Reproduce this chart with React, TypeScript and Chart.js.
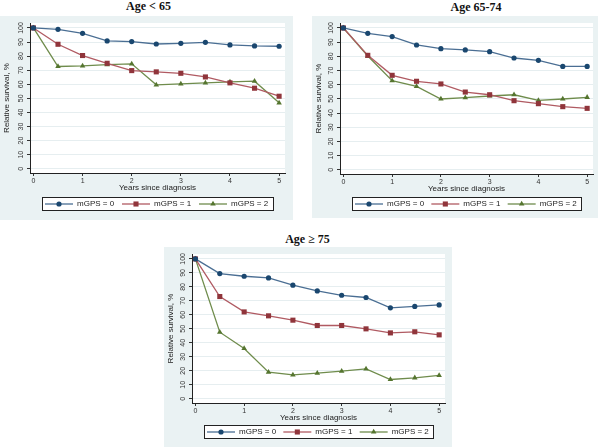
import React, { useEffect, useRef } from "react";
import { Chart, registerables } from "chart.js";

Chart.register(...registerables);

// ---- data ----
const years = [0, 0.5, 1, 1.5, 2, 2.5, 3, 3.5, 4, 4.5, 5];
const xTickValues = [0, 1, 2, 3, 4, 5];
const yTickValues = [0, 10, 20, 30, 40, 50, 60, 70, 80, 90, 100];
const seriesLabels = ["mGPS = 0", "mGPS = 1", "mGPS = 2"];
const panelTitles = ["Age < 65", "Age 65-74", "Age \u2265 75"];
const xAxisTitle = "Years since diagnosis";
const yAxisTitle = "Relative survival, %";

const under65Mgps0 = [100, 99, 96.2, 90.8, 90.3, 88.6, 89.1, 89.8, 87.9, 87.2, 87];
const under65Mgps1 = [100, 88.4, 80.4, 74.9, 69.7, 68.8, 67.8, 65.2, 61, 57.2, 51.5];
const under65Mgps2 = [100, 72.6, 73, 74, 74.5, 59.6, 60.3, 61, 61.7, 62.2, 46.8];

const age6574Mgps0 = [100, 96.2, 93.9, 88, 85.4, 84.5, 83.3, 78.8, 77.2, 72.9, 72.9];
const age6574Mgps1 = [100, 80.7, 66.6, 62.4, 60.5, 54.8, 52.9, 48.7, 46.6, 44.5, 43.3];
const age6574Mgps2 = [100, 80.2, 62.8, 58.8, 49.9, 50.8, 52, 52.9, 48.9, 49.9, 51.1];

const over75Mgps0 = [100, 89.5, 87.6, 86.4, 81.2, 77.1, 74, 72.4, 65, 66, 67.1];
const over75Mgps1 = [100, 73.1, 62.1, 59.3, 56.2, 52.4, 52.4, 50, 47.1, 47.9, 45.7];
const over75Mgps2 = [100, 47.6, 36, 19, 17.1, 18.3, 19.8, 21.4, 13.8, 15, 16.7];

// ---- styles ----
const markerColors = ["#1a476f", "#90353b", "#55752f"];
const lineColors = ["#4a6e93", "#b05a62", "#6f8c4c"];
const pointStyles = ["circle", "rect", "triangle"];
const pointRadii = [2.6, 3.6, 3.2];
const SANS = "'Liberation Sans', Arial, sans-serif";
const SERIF = "'Liberation Serif', 'Times New Roman', serif";
const BG = "#eaf2f3";

type Box = { x: number; y: number; w: number; h: number };
type Area = { left: number; top: number; right: number; bottom: number };

function drawMarker(ctx: CanvasRenderingContext2D, style: string, x: number, y: number, r: number, color: string) {
  ctx.fillStyle = color;
  ctx.beginPath();
  if (style === "circle") {
    ctx.arc(x, y, r, 0, Math.PI * 2);
  } else if (style === "rect") {
    const s = Math.SQRT1_2 * r;
    ctx.rect(x - s, y - s, 2 * s, 2 * s);
  } else {
    const a = (Math.PI * 2) / 3;
    for (let k = 0; k < 3; k++) {
      const ang = -Math.PI / 2 + k * a;
      const px = x + Math.cos(ang) * r;
      const py = y + Math.sin(ang) * r;
      if (k === 0) ctx.moveTo(px, py);
      else ctx.lineTo(px, py);
    }
    ctx.closePath();
  }
  ctx.fill();
}

function Panel(props: {
  title: string;
  titleX: number;
  titleY: number;
  box: Box;
  area: Area;
  legendOffset: number;
  series: number[][];
}) {
  const ref = useRef<HTMLCanvasElement>(null);
  const { box, area, legendOffset, series } = props;

  useEffect(() => {
    const xAxisH = 20;
    const bgPlugin = {
      id: "bgPlugin",
      beforeDraw(chart: any) {
        const { ctx, chartArea } = chart;
        ctx.save();
        ctx.fillStyle = BG;
        ctx.fillRect(0, 0, chart.width, chart.height);
        ctx.fillStyle = "#ffffff";
        ctx.fillRect(
          chartArea.left,
          chartArea.top,
          chartArea.right - chartArea.left,
          chartArea.bottom - chartArea.top
        );
        ctx.restore();
      },
    };
    const legendPlugin = {
      id: "stataLegend",
      afterDraw(chart: any) {
        const { ctx, chartArea } = chart;
        const left = chartArea.left + 12;
        const right = chartArea.right - 12;
        const top = chartArea.bottom + legendOffset;
        const h = 13;
        ctx.save();
        ctx.fillStyle = "#ffffff";
        ctx.fillRect(left, top, right - left, h);
        ctx.strokeStyle = "#222";
        ctx.lineWidth = 1;
        ctx.strokeRect(Math.round(left) + 0.5, Math.round(top) + 0.5, Math.round(right - left), h);
        const slot = (right - left) / chart.data.datasets.length;
        const cy = top + h / 2 + 0.5;
        chart.data.datasets.forEach((ds: any, i: number) => {
          const sx = left + slot * i + 3;
          const lineLen = 28;
          ctx.strokeStyle = ds.borderColor;
          ctx.lineWidth = 1.3;
          ctx.beginPath();
          ctx.moveTo(sx, cy);
          ctx.lineTo(sx + lineLen, cy);
          ctx.stroke();
          drawMarker(ctx, ds.pointStyle, sx + lineLen / 2, cy, ds.pointRadius, ds.backgroundColor);
          ctx.fillStyle = "#222";
          ctx.font = `8px ${SANS}`;
          ctx.textBaseline = "middle";
          ctx.textAlign = "left";
          ctx.fillText(ds.label, sx + lineLen + 4, cy);
        });
        ctx.restore();
      },
    };

    const chart = new Chart(ref.current as HTMLCanvasElement, {
      type: "line",
      data: {
        datasets: series.map((s, i) => ({
          label: seriesLabels[i],
          data: years.map((x, j) => ({ x, y: s[j] })),
          borderColor: lineColors[i],
          backgroundColor: markerColors[i],
          pointStyle: pointStyles[i] as any,
          pointRadius: pointRadii[i],
          pointBorderWidth: 0,
          borderWidth: 1.3,
          tension: 0,
        })),
      },
      options: {
        animation: false,
        responsive: false,
        maintainAspectRatio: false,
        layout: {
          padding: {
            left: 0,
            top: area.top,
            right: box.w - area.right,
            bottom: box.h - area.bottom - xAxisH,
          },
        },
        plugins: {
          legend: { display: false },
          tooltip: { enabled: false },
          title: { display: false },
        },
        scales: {
          x: {
            type: "linear",
            min: -0.07,
            max: 5.12,
            afterBuildTicks: (s: any) => {
              s.ticks = xTickValues.map((v) => ({ value: v }));
            },
            afterFit: (s: any) => {
              s.height = xAxisH;
            },
            grid: { drawOnChartArea: false, tickLength: 3, tickColor: "#333" },
            border: { color: "#222", width: 1 },
            ticks: {
              font: { family: SANS, size: 7 },
              color: "#333",
              padding: 1,
              maxRotation: 0,
              autoSkip: false,
            },
            title: {
              display: true,
              text: xAxisTitle,
              font: { family: SANS, size: 8 },
              color: "#222",
              padding: 0,
            },
          },
          y: {
            type: "linear",
            min: -3,
            max: 103.5,
            afterBuildTicks: (s: any) => {
              s.ticks = yTickValues.map((v) => ({ value: v }));
            },
            afterFit: (s: any) => {
              s.width = area.left;
            },
            grid: { color: "#e6eef0", tickLength: 3, tickColor: "#333" },
            border: { color: "#222", width: 1 },
            ticks: {
              font: { family: SANS, size: 7 },
              color: "#333",
              padding: 0,
              minRotation: 90,
              maxRotation: 90,
              crossAlign: "center",
              autoSkip: false,
            },
            title: {
              display: true,
              text: yAxisTitle,
              font: { family: SANS, size: 8 },
              color: "#222",
              padding: { top: 2, bottom: 0 },
            },
          },
        },
      } as any,
      plugins: [bgPlugin, legendPlugin],
    });
    return () => chart.destroy();
  }, []);

  return (
    <>
      <div
        style={{
          position: "absolute",
          left: props.titleX - 100,
          top: props.titleY - 7,
          width: 200,
          height: 14,
          lineHeight: "14px",
          textAlign: "center",
          fontFamily: SERIF,
          fontWeight: "bold",
          fontSize: 12,
          color: "#111",
          whiteSpace: "nowrap",
        }}
      >
        {props.title}
      </div>
      <canvas
        ref={ref}
        width={box.w}
        height={box.h}
        style={{
          position: "absolute",
          left: box.x,
          top: box.y,
          width: box.w,
          height: box.h,
        }}
      />
    </>
  );
}

export default function App() {
  return (
    <div
      style={{
        position: "absolute",
        left: 0,
        top: 0,
        width: 600,
        height: 448,
        background: "#ffffff",
        overflow: "hidden",
      }}
    >
      <Panel
        title={panelTitles[0]}
        titleX={148.5}
        titleY={5.5}
        box={{ x: 0, y: 16, w: 293, h: 204 }}
        area={{ left: 30, top: 7, right: 285, bottom: 157 }}
        legendOffset={24}
        series={[under65Mgps0, under65Mgps1, under65Mgps2]}
      />
      <Panel
        title={panelTitles[1]}
        titleX={476}
        titleY={6.5}
        box={{ x: 312, y: 16, w: 286, h: 202 }}
        area={{ left: 28, top: 7, right: 281, bottom: 158 }}
        legendOffset={23}
        series={[age6574Mgps0, age6574Mgps1, age6574Mgps2]}
      />
      <Panel
        title={panelTitles[2]}
        titleX={307.5}
        titleY={238.5}
        box={{ x: 164, y: 247, w: 288, h: 200 }}
        area={{ left: 28, top: 7, right: 281, bottom: 156 }}
        legendOffset={22}
        series={[over75Mgps0, over75Mgps1, over75Mgps2]}
      />
    </div>
  );
}
